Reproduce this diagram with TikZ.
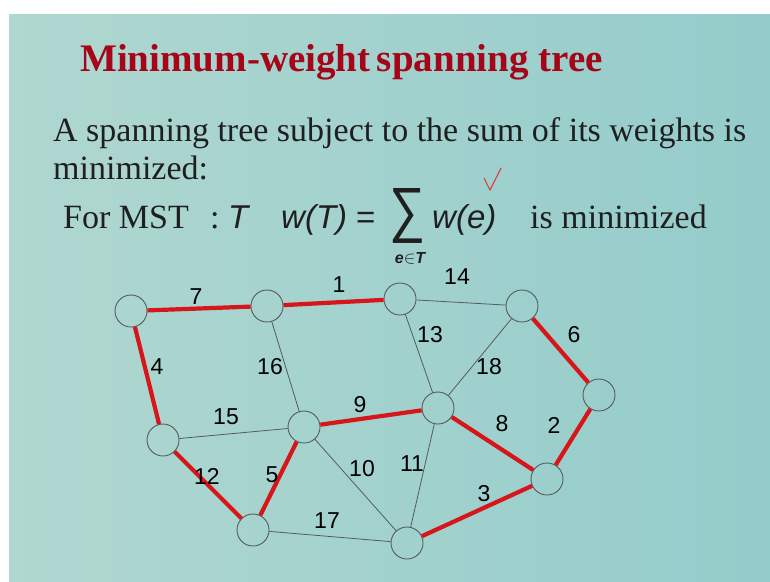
\documentclass[tikz,border=0pt]{standalone}
\usepackage{graphicx}
\usepackage{fontspec}
\setmainfont{Liberation Serif}
\newfontfamily\lsans{Liberation Sans}
\definecolor{titlered}{RGB}{165,5,25}
\definecolor{edgered}{RGB}{214,22,26}
\definecolor{bgL}{RGB}{176,215,208}
\definecolor{bgM}{RGB}{191,222,213}
\definecolor{bgR}{RGB}{148,204,203}
\definecolor{thin}{RGB}{85,90,90}
\definecolor{checkred}{RGB}{225,60,60}
\tikzset{
  vtx/.style={circle, draw=thin, line width=0.9pt, minimum size=32pt, inner sep=0pt},
  thinedge/.style={draw=thin, line width=0.8pt},
  redge/.style={draw=edgered, line width=4.2pt},
  wlabel/.style={font=\lsans\fontsize{23}{25}\selectfont, text=black, inner sep=0pt},
  bodytext/.style={font=\fontsize{34}{36}\selectfont, text=black!88, inner sep=0pt, anchor=base west},
  formula/.style={font=\lsans\itshape\fontsize{33}{35}\selectfont, text=black!88, inner sep=0pt, anchor=base west}
}
\begin{document}
\begin{tikzpicture}[x=1pt,y=-1pt]
\useasboundingbox (0,0) rectangle (770,581);
\fill[white] (0,0) rectangle (770,581);
\shade[left color=bgL, middle color=bgM, right color=bgR] (9,14) rectangle (770,581);

% title and text
\node[anchor=base west, inner sep=0pt, text=titlered, font=\fontsize{39}{41}\selectfont\bfseries] (title) at (80,71) {Minimum-weight\,spanning tree};
\node[bodytext] (line1) at (53,141) {A spanning tree subject to the sum of its weights is};
\node[bodytext] (line2) at (53,179) {minimized:};
\node[bodytext] (formst) at (63,228) {For MST};
\node[bodytext] (colon) at (210,228) {:};
\node[formula] (tvar) at (228,228) {T};
\node[formula] (wt) at (281,228) {w(T)};
\node[bodytext, font=\lsans\fontsize{33}{35}\selectfont] (eq) at (356,228) {=};
\node[anchor=center, inner sep=0pt, text=black!88] (sum) at (407,216) {\resizebox{36pt}{42pt}{\lsans ∑}};
\node[anchor=base, inner sep=0pt, text=black!88, font=\lsans\itshape\bfseries\fontsize{16}{18}\selectfont] (sub) at (410,263) {e$\in$T};
\node[formula] (we) at (432,228) {w(e)};
\node[bodytext] (ismin) at (530,228) {is minimized};
\coordinate (ck1) at (484,178);
\coordinate (ck2) at (490,190);
\coordinate (ck3) at (501,168);
\draw[checkred, line width=1.1pt, line cap=round, line join=round] (ck1) -- (ck2) -- (ck3);

% vertices
\node[vtx] (A) at (131,311) {};
\node[vtx] (B) at (267,306) {};
\node[vtx] (C) at (400,299) {};
\node[vtx] (D) at (522,306) {};
\node[vtx] (E) at (599,395) {};
\node[vtx] (F) at (438,408) {};
\node[vtx] (G) at (163,440) {};
\node[vtx] (H) at (304,427) {};
\node[vtx] (I) at (253,530) {};
\node[vtx] (J) at (407,543) {};
\node[vtx] (K) at (547,479) {};

% thin edges
\draw[thinedge] (C) -- (D);
\draw[thinedge] (B) -- (H);
\draw[thinedge] (C) -- (F);
\draw[thinedge] (D) -- (F);
\draw[thinedge] (G) -- (H);
\draw[thinedge] (H) -- (J);
\draw[thinedge] (F) -- (J);
\draw[thinedge] (I) -- (J);

% MST edges
\draw[redge] (A) -- (B);
\draw[redge] (B) -- (C);
\draw[redge] (A) -- (G);
\draw[redge] (D) -- (E);
\draw[redge] (H) -- (F);
\draw[redge] (F) -- (K);
\draw[redge] (E) -- (K);
\draw[redge] (G) -- (I);
\draw[redge] (H) -- (I);
\draw[redge] (J) -- (K);

% weights
\node[wlabel] (w7) at (196,297) {7};
\node[wlabel] (w1) at (339,285) {1};
\node[wlabel] (w14) at (457,277) {14};
\node[wlabel] (w13) at (430,335) {13};
\node[wlabel] (w6) at (574,335) {6};
\node[wlabel] (w4) at (157,367) {4};
\node[wlabel] (w16) at (270,367) {16};
\node[wlabel] (w18) at (489,367) {18};
\node[wlabel] (w15) at (226,417) {15};
\node[wlabel] (w9) at (360,405) {9};
\node[wlabel] (w8) at (502,424) {8};
\node[wlabel] (w2) at (554,425) {2};
\node[wlabel] (w12) at (207,476) {12};
\node[wlabel] (w5) at (272,475) {5};
\node[wlabel] (w10) at (362,469) {10};
\node[wlabel] (w11) at (412,464) {11};
\node[wlabel] (w17) at (327,521) {17};
\node[wlabel] (w3) at (484,494) {3};
\end{tikzpicture}
\end{document}
